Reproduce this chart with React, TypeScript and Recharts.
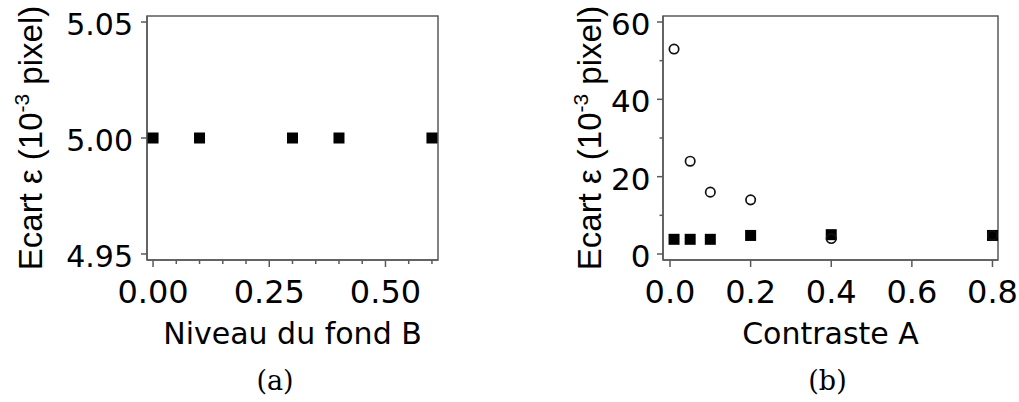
import React from 'react';
import { ScatterChart, Scatter, XAxis, YAxis, ReferenceArea, Label } from 'recharts';

// ---- data ----
const levelB = [0, 0.1, 0.3, 0.4, 0.6];
const errorB = [5.0, 5.0, 5.0, 5.0, 5.0];

const contrastA = [0.01, 0.05, 0.1, 0.2, 0.4, 0.8];
const errorFilled = [3.8, 3.8, 3.8, 4.8, 5.0, 4.8];
const errorOpen = [53, 24, 16, 14, 4, 4.8];

// ---- ticks ----
const leftXMajor = [0, 0.25, 0.5];
const leftXMinor = [0.05, 0.1, 0.15, 0.2, 0.3, 0.35, 0.4, 0.45, 0.55, 0.6];
const leftYMajor = [4.95, 5.0, 5.05];
const rightXMajor = [0, 0.2, 0.4, 0.6, 0.8];
const rightYMajor = [0, 20, 40, 60];
const rightYMinor = [10, 30, 50];

const leftXDomain: [number, number] = [-0.013, 0.613];
const leftYDomain: [number, number] = [4.9474, 5.0526];
const rightXDomain: [number, number] = [-0.0174, 0.8137];
const rightYDomain: [number, number] = [-1.55, 61.55];

const AXIS = '#5a5a5a';
const SANS = '"DejaVu Sans", sans-serif';

const dataB = levelB.map((x, i) => ({ x, y: errorB[i] }));
const dataFilled = contrastA.map((x, i) => ({ x, y: errorFilled[i] }));
const dataOpen = contrastA.map((x, i) => ({ x, y: errorOpen[i] }));

const isIn = (arr: number[], v: number) => arr.some((m) => Math.abs(m - v) < 1e-9);

function makeXTick(majors: number[], digits: number, fontSize: number) {
  return (props: any) => {
    const { x, y, payload } = props;
    const v = payload.value as number;
    const major = isIn(majors, v);
    return (
      <g>
        <line x1={x} x2={x} y1={y} y2={y + (major ? 7 : 4)} stroke={AXIS} strokeWidth={1.5} />
        {major && (
          <text x={x} y={y + 43} textAnchor="middle" fontFamily={SANS} fontSize={fontSize} fill="#000">
            {v.toFixed(digits)}
          </text>
        )}
      </g>
    );
  };
}

function makeYTick(majors: number[], digits: number, fontSize: number, gap: number) {
  return (props: any) => {
    const { x, y, payload } = props;
    const v = payload.value as number;
    const major = isIn(majors, v);
    return (
      <g>
        <line x1={x - (major ? 6 : 3.5)} x2={x} y1={y} y2={y} stroke={AXIS} strokeWidth={1.5} />
        {major && (
          <text x={x - gap} y={y + 13} textAnchor="end" fontFamily={SANS} fontSize={fontSize} fill="#000">
            {v.toFixed(digits)}
          </text>
        )}
      </g>
    );
  };
}

const xLabel = (text: string) => (p: any) => {
  const vb = p.viewBox || {};
  return (
    <text x={vb.x + vb.width / 2} y={vb.y + 84} textAnchor="middle" fontFamily={SANS} fontSize={30} fill="#000">
      {text}
    </text>
  );
};

const yLabel = (baseOffset: number) => (p: any) => {
  const vb = p.viewBox || {};
  const bx = vb.x + baseOffset;
  const cy = vb.y + vb.height / 2;
  return (
    <text
      x={bx}
      y={cy}
      transform={`rotate(-90 ${bx} ${cy})`}
      textAnchor="middle"
      fontFamily='"Liberation Sans", Arial, sans-serif'
      fontSize={33}
      fill="#000"
    >
      Ecart ε (10
      <tspan dy={-13} fontSize={21}>-3</tspan>
      <tspan dy={13}> pixel)</tspan>
    </text>
  );
};

const Square = (props: any) => {
  const { cx, cy } = props;
  return <rect x={cx - 5.5} y={cy - 5.5} width={11} height={11} fill="#000" />;
};

const Ring = (props: any) => {
  const { cx, cy } = props;
  return <circle cx={cx} cy={cy} r={4.7} fill="none" stroke="#111" strokeWidth={1.7} />;
};

export default function App() {
  return (
    <div style={{ position: 'absolute', left: 0, top: 0, width: 1019, height: 402, background: '#fff' }}>
      <div style={{ position: 'absolute', left: 0, top: 0 }}>
        <ScatterChart width={510} height={402} margin={{ top: 16, right: 72, bottom: 0, left: 0 }}>
          <XAxis
            type="number"
            dataKey="x"
            domain={leftXDomain}
            allowDataOverflow
            ticks={[...leftXMajor, ...leftXMinor].sort((a, b) => a - b)}
            interval={0}
            tick={makeXTick(leftXMajor, 2, 32)}
            tickLine={false}
            tickSize={0}
            tickMargin={0}
            height={142}
            axisLine={{ stroke: AXIS, strokeWidth: 1.5 }}
          >
            <Label content={xLabel('Niveau du fond B')} />
          </XAxis>
          <YAxis
            type="number"
            dataKey="y"
            domain={leftYDomain}
            allowDataOverflow
            ticks={leftYMajor}
            interval={0}
            tick={makeYTick(leftYMajor, 2, 30, 14)}
            tickLine={false}
            tickSize={0}
            tickMargin={0}
            width={147}
            axisLine={{ stroke: AXIS, strokeWidth: 1.5 }}
          >
            <Label content={yLabel(42)} />
          </YAxis>
          <ReferenceArea
            x1={leftXDomain[0]}
            x2={leftXDomain[1]}
            y1={leftYDomain[0]}
            y2={leftYDomain[1]}
            fill="none"
            stroke={AXIS}
            strokeWidth={1.5}
            ifOverflow="visible"
          />
          <Scatter data={dataB} shape={Square} isAnimationActive={false} />
        </ScatterChart>
      </div>
      <div style={{ position: 'absolute', left: 510, top: 0 }}>
        <ScatterChart width={509} height={402} margin={{ top: 16, right: 21, bottom: 0, left: 0 }}>
          <XAxis
            type="number"
            dataKey="x"
            domain={rightXDomain}
            allowDataOverflow
            ticks={rightXMajor}
            interval={0}
            tick={makeXTick(rightXMajor, 1, 32)}
            tickLine={false}
            tickSize={0}
            tickMargin={0}
            height={142}
            axisLine={{ stroke: AXIS, strokeWidth: 1.5 }}
          >
            <Label content={xLabel('Contraste A')} />
          </XAxis>
          <YAxis
            type="number"
            dataKey="y"
            domain={rightYDomain}
            allowDataOverflow
            ticks={[...rightYMajor, ...rightYMinor].sort((a, b) => a - b)}
            interval={0}
            tick={makeYTick(rightYMajor, 0, 31, 12.5)}
            tickLine={false}
            tickSize={0}
            tickMargin={0}
            width={153}
            axisLine={{ stroke: AXIS, strokeWidth: 1.5 }}
          >
            <Label content={yLabel(91)} />
          </YAxis>
          <ReferenceArea
            x1={rightXDomain[0]}
            x2={rightXDomain[1]}
            y1={rightYDomain[0]}
            y2={rightYDomain[1]}
            fill="none"
            stroke={AXIS}
            strokeWidth={1.5}
            ifOverflow="visible"
          />
          <Scatter data={dataFilled} shape={Square} isAnimationActive={false} />
          <Scatter data={dataOpen} shape={Ring} isAnimationActive={false} />
        </ScatterChart>
      </div>
      <svg
        width={1019}
        height={402}
        style={{ position: 'absolute', left: 0, top: 0, pointerEvents: 'none' }}
      >
        <text x={275} y={390} textAnchor="middle" fontFamily='"DejaVu Serif", serif' fontSize={27} fill="#000">
          (a)
        </text>
        <text x={827.5} y={390} textAnchor="middle" fontFamily='"DejaVu Serif", serif' fontSize={27} fill="#000">
          (b)
        </text>
      </svg>
    </div>
  );
}
